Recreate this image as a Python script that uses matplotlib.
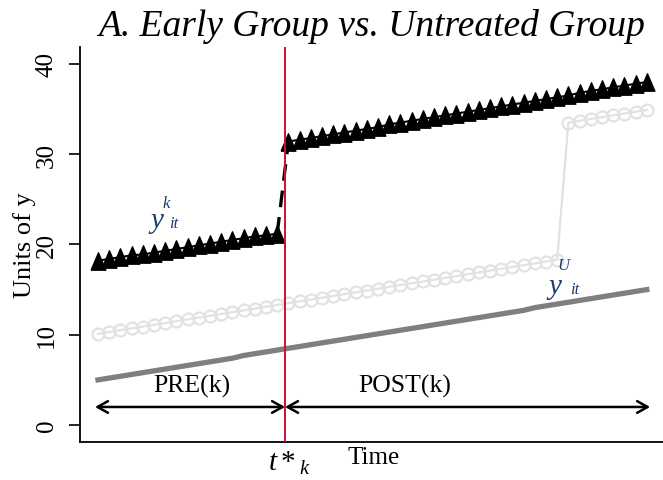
import numpy as np
from matplotlib import pyplot as plt

plt.rcParams['font.family'] = ['Liberation Serif', 'DejaVu Serif']
plt.rcParams['mathtext.fontset'] = 'custom'
plt.rcParams['mathtext.rm'] = 'Liberation Serif'
plt.rcParams['mathtext.it'] = 'Liberation Serif:italic'

# time periods
timePre = list(range(1, 18))
timePost = list(range(18, 51))
timeUntreatedLow = list(range(1, 43))
timeUntreatedHigh = list(range(43, 51))
timeAll = list(range(1, 51))
treatTime = 17.7

# early group (black triangles)
earlyPre = [18.2, 18.4, 18.6, 18.8, 18.9, 19.1, 19.3, 19.5, 19.7, 19.9,
            20.1, 20.3, 20.5, 20.7, 20.9, 21.0, 21.2]
earlyPost = [31.4, 31.6, 31.8, 32.0, 32.2, 32.4, 32.6, 32.8, 33.0, 33.3,
             33.5, 33.7, 33.9, 34.1, 34.3, 34.5, 34.7, 34.9, 35.1, 35.3,
             35.5, 35.7, 35.9, 36.1, 36.3, 36.5, 36.8, 37.0, 37.2, 37.4,
             37.6, 37.8, 38.0]

# later-treated group (light grey circles)
lateLow = [10.1, 10.3, 10.5, 10.7, 10.9, 11.1, 11.3, 11.5, 11.7, 11.9,
           12.1, 12.3, 12.5, 12.7, 12.9, 13.1, 13.3, 13.5, 13.7, 13.9,
           14.1, 14.3, 14.5, 14.7, 14.9, 15.1, 15.3, 15.5, 15.7, 15.9,
           16.1, 16.3, 16.5, 16.7, 16.9, 17.1, 17.3, 17.5, 17.7, 17.9,
           18.1, 18.3]
lateHigh = [33.5, 33.7, 33.9, 34.1, 34.3, 34.5, 34.7, 34.9]

# untreated group (grey line)
untreated = [5.0, 5.2, 5.4, 5.6, 5.8, 6.0, 6.2, 6.4, 6.6, 6.8,
             7.0, 7.2, 7.4, 7.7, 7.9, 8.1, 8.3, 8.5, 8.7, 8.9,
             9.1, 9.3, 9.5, 9.7, 9.9, 10.1, 10.3, 10.5, 10.7, 10.9,
             11.1, 11.3, 11.5, 11.7, 11.9, 12.1, 12.3, 12.5, 12.7, 13.0,
             13.2, 13.4, 13.6, 13.8, 14.0, 14.2, 14.4, 14.6, 14.8, 15.0]

yTicks = [0, 10, 20, 30, 40]

fig = plt.figure(figsize=(6.63, 4.81), dpi=100)
ax = fig.add_axes([0.1207, 0.079, 0.8793, 0.821])

# taller-than-wide triangle, like the Stata marker
triMarker = [(-0.85, -1), (0.85, -1), (0, 1), (-0.85, -1)]

circleColor = '#e2e2e2'
ax.plot(timeUntreatedLow + timeUntreatedHigh, lateLow + lateHigh, '-o', color=circleColor,
        lw=1.6, markersize=8.6, markerfacecolor='none', markeredgecolor=circleColor,
        markeredgewidth=1.6, zorder=2)
ax.plot(timeAll, untreated, '-', color='#7f7f7f', lw=3.8, zorder=2)
ax.plot([timePre[-1], timePost[0]], [earlyPre[-1], earlyPost[0]], '--', color='black',
        lw=2.4, dashes=(5, 3), zorder=2)
ax.plot(timePre, earlyPre, '-', marker=triMarker, color='black', lw=1.5, markersize=12.5, zorder=2)
ax.plot(timePost, earlyPost, '-', marker=triMarker, color='black', lw=1.5, markersize=12.5, zorder=2)

ax.axvline(treatTime, color='#c8103a', lw=1.4, zorder=3)

arrowStyle = dict(arrowstyle='<->,head_length=0.75,head_width=0.42', lw=1.8, color='black',
                  shrinkA=0, shrinkB=0)
ax.annotate('', xy=(0.73, 2), xytext=(treatTime, 2), arrowprops=arrowStyle, zorder=4)
ax.annotate('', xy=(treatTime, 2), xytext=(50.3, 2), arrowprops=arrowStyle, zorder=4)
ax.text(9.4, 4.4, 'PRE(k)', fontsize=18.5, ha='center', va='center')
ax.text(28.4, 4.4, 'POST(k)', fontsize=18.5, ha='center', va='center')

labelColor = '#1c3b6e'
ax.text(6.3, 22.7, 'y', fontsize=21, style='italic', color=labelColor, ha='center', va='center')
ax.text(7.1, 24.6, 'k', fontsize=12, style='italic', color=labelColor, ha='center', va='center')
ax.text(7.8, 22.4, 'it', fontsize=12, style='italic', color=labelColor, ha='center', va='center')
ax.text(41.8, 15.4, 'y', fontsize=21, style='italic', color=labelColor, ha='center', va='center')
ax.text(42.6, 17.7, 'U', fontsize=12, style='italic', color=labelColor, ha='center', va='center')
ax.text(43.6, 15.1, 'it', fontsize=12, style='italic', color=labelColor, ha='center', va='center')

ax.set_xlim(-0.607, 51.45)
ax.set_ylim(-1.88, 41.86)
ax.set_xticks([])
ax.set_yticks(yTicks)
ax.set_yticklabels([str(v) for v in yTicks], rotation=90, va='center', fontsize=18)
ax.tick_params(axis='y', direction='out', length=8, width=1.2, pad=8)
for side in ['top', 'right']:
    ax.spines[side].set_visible(False)
for side in ['left', 'bottom']:
    ax.spines[side].set_linewidth(1.3)
ax.set_ylabel('Units of y', fontsize=19, labelpad=0)

ax.annotate('$t*_{k}$', xy=(treatTime, 0), xycoords=('data', 'axes fraction'),
            xytext=(3, -15), textcoords='offset points', ha='center', va='center', fontsize=21)
ax.annotate('Time', xy=(25.6, 0), xycoords=('data', 'axes fraction'),
            xytext=(0, -11), textcoords='offset points', ha='center', va='center', fontsize=18)

fig.text(0.56, 0.945, 'A. Early Group vs. Untreated Group', fontsize=27, style='italic',
         ha='center', va='center')

fig.savefig('out.png', dpi=100)
